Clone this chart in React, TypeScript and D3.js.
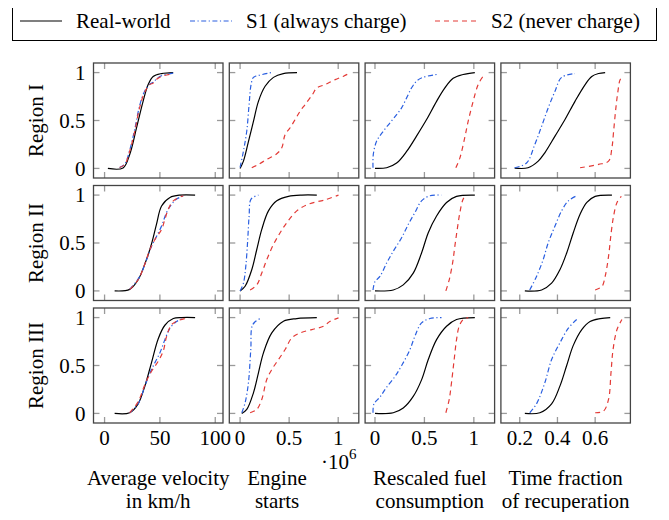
import React from 'react';
import * as d3 from 'd3';

type Pt = [number, number];

const regions = ['Region I', 'Region II', 'Region III'];
const seriesNames = ['Real-world', 'S1 (always charge)', 'S2 (never charge)'];
const xLabels = [
  ['Average velocity', 'in km/h'],
  ['Engine', 'starts'],
  ['Rescaled fuel', 'consumption'],
  ['Time fraction', 'of recuperation'],
];
const xDomains: Pt[] = [[-10, 107], [-0.11, 1.21], [-0.1, 1.21], [0.1, 0.787]];
const xTicks = [[0, 50, 100], [0, 0.5, 1], [0, 0.5, 1], [0.2, 0.4, 0.6]];
const xTickLabels = [['0', '50', '100'], ['0', '0.5', '1'], ['0', '0.5', '1'], ['0.2', '0.4', '0.6']];
const yTicks = [0, 0.5, 1];
const yTickLabels = ['0', '0.5', '1'];

// Region I
const velIReal: Pt[] = [[3, 0], [16.7, 0.005], [22.7, 0.146], [28.8, 0.42], [34.8, 0.7], [39.4, 0.875], [43.9, 0.96], [51.5, 0.99], [62, 1]];
const velIS1: Pt[] = [[13.6, 0.01], [18.2, 0.045], [22.7, 0.19], [27.3, 0.41], [31.8, 0.66], [36.4, 0.81], [41, 0.88], [44, 0.9], [47.5, 0.94], [52, 0.97], [62, 0.995]];
const velIS2: Pt[] = [[13.6, 0.01], [18.2, 0.04], [22.7, 0.18], [27.3, 0.39], [31.8, 0.64], [36.4, 0.8], [40.9, 0.875], [43.9, 0.89], [47, 0.93], [51.5, 0.96], [62, 0.99]];
const engIReal: Pt[] = [[0, 0], [0.034, 0.076], [0.085, 0.28], [0.136, 0.49], [0.187, 0.7], [0.255, 0.857], [0.34, 0.95], [0.44, 0.99], [0.58, 1]];
const engIS1: Pt[] = [[0, 0.01], [0.034, 0.18], [0.068, 0.39], [0.092, 0.67], [0.112, 0.875], [0.136, 0.95], [0.187, 0.97], [0.32, 1]];
const engIS2: Pt[] = [[0.119, 0.007], [0.187, 0.042], [0.272, 0.094], [0.374, 0.153], [0.425, 0.215], [0.459, 0.354], [0.51, 0.424], [0.561, 0.51], [0.612, 0.597], [0.663, 0.667], [0.738, 0.771], [0.782, 0.84], [0.867, 0.875], [0.969, 0.927], [1.054, 0.962], [1.122, 0.997]];
const fuelIReal: Pt[] = [[0, 0], [0.118, 0.007], [0.219, 0.056], [0.32, 0.177], [0.42, 0.337], [0.522, 0.51], [0.623, 0.7], [0.707, 0.84], [0.791, 0.94], [0.892, 0.98], [1.01, 1]];
const fuelIS1: Pt[] = [[-0.02, 0.007], [-0.017, 0.146], [0.017, 0.285], [0.084, 0.389], [0.152, 0.476], [0.219, 0.562], [0.269, 0.632], [0.32, 0.736], [0.37, 0.84], [0.42, 0.91], [0.488, 0.951], [0.623, 0.98]];
const fuelIS2: Pt[] = [[0.818, 0.007], [0.859, 0.11], [0.909, 0.326], [0.943, 0.493], [0.993, 0.7], [1.044, 0.875], [1.094, 0.96], [1.11, 0.97]];
const timeIReal: Pt[] = [[0.173, 0.003], [0.244, 0.007], [0.298, 0.076], [0.333, 0.163], [0.387, 0.337], [0.44, 0.51], [0.493, 0.7], [0.547, 0.875], [0.582, 0.96], [0.618, 0.99], [0.653, 1]];
const timeIS1: Pt[] = [[0.173, 0.007], [0.236, 0.056], [0.28, 0.25], [0.316, 0.44], [0.351, 0.632], [0.387, 0.806], [0.422, 0.95], [0.493, 0.99]];
const timeIS2: Pt[] = [[0.52, 0.007], [0.618, 0.042], [0.671, 0.076], [0.689, 0.215], [0.698, 0.389], [0.71, 0.632], [0.721, 0.806], [0.733, 0.927], [0.751, 0.962]];

// Region II
const velIIReal: Pt[] = [[9.1, 0], [22.7, 0.016], [30.3, 0.116], [36.4, 0.28], [42.4, 0.49], [47, 0.7], [51.5, 0.886], [59.1, 0.975], [68.2, 1], [81.8, 1]];
const velIIS1: Pt[] = [[22.7, 0.016], [31.8, 0.15], [37.9, 0.326], [42.4, 0.463], [47, 0.57], [51.5, 0.677], [56, 0.818], [60.6, 0.905], [65.1, 0.958], [71.2, 0.993]];
const velIIS2: Pt[] = [[22.7, 0.016], [30.3, 0.116], [36.4, 0.28], [40.9, 0.43], [45.5, 0.537], [51.5, 0.642], [54.5, 0.747], [57.6, 0.853], [62.1, 0.94], [71.2, 0.993]];
const engIIReal: Pt[] = [[0, 0], [0.051, 0.049], [0.119, 0.221], [0.17, 0.432], [0.221, 0.642], [0.289, 0.835], [0.374, 0.94], [0.493, 0.986], [0.629, 1], [0.782, 1]];
const engIIS1: Pt[] = [[0, 0], [0.034, 0.081], [0.058, 0.256], [0.078, 0.537], [0.092, 0.782], [0.112, 0.958], [0.187, 1]];
const engIIS2: Pt[] = [[0.102, 0.01], [0.17, 0.063], [0.221, 0.186], [0.272, 0.326], [0.34, 0.484], [0.408, 0.607], [0.476, 0.712], [0.578, 0.835], [0.697, 0.905], [0.867, 0.951], [1.003, 1]];
const fuelIIReal: Pt[] = [[0, 0], [0.185, 0.01], [0.286, 0.063], [0.387, 0.186], [0.471, 0.396], [0.539, 0.607], [0.623, 0.782], [0.724, 0.923], [0.825, 0.986], [1.01, 1]];
const fuelIIS1: Pt[] = [[-0.02, 0.01], [0, 0.098], [0.05, 0.151], [0.118, 0.291], [0.185, 0.414], [0.269, 0.554], [0.337, 0.695], [0.404, 0.818], [0.471, 0.94], [0.556, 0.993], [0.673, 1]];
const fuelIIS2: Pt[] = [[0.717, 0], [0.751, 0.116], [0.785, 0.291], [0.808, 0.467], [0.832, 0.642], [0.859, 0.818], [0.892, 0.958], [0.926, 1]];
const timeIIReal: Pt[] = [[0.227, 0], [0.316, 0.01], [0.369, 0.081], [0.413, 0.221], [0.449, 0.396], [0.484, 0.607], [0.52, 0.8], [0.556, 0.923], [0.6, 0.986], [0.689, 1]];
const timeIIS1: Pt[] = [[0.253, 0.01], [0.289, 0.151], [0.324, 0.326], [0.351, 0.502], [0.387, 0.677], [0.422, 0.835], [0.458, 0.94], [0.502, 0.993]];
const timeIIS2: Pt[] = [[0.6, 0.01], [0.636, 0.046], [0.653, 0.151], [0.671, 0.361], [0.685, 0.607], [0.698, 0.782], [0.716, 0.923], [0.739, 0.986]];

// Region III
const velIIIReal: Pt[] = [[9.1, 0], [22.7, 0.007], [30.3, 0.1], [36.4, 0.285], [42.4, 0.53], [48.5, 0.78], [54.5, 0.92], [62.1, 0.99], [69.7, 1], [81.8, 1]];
const velIIIS1: Pt[] = [[22.7, 0.007], [30.3, 0.1], [36.4, 0.285], [40.9, 0.42], [45.5, 0.53], [50, 0.632], [54.5, 0.77], [59.1, 0.89], [65.1, 0.96], [71.2, 0.99]];
const velIIIS2: Pt[] = [[22.7, 0.007], [30.3, 0.12], [36.4, 0.3], [42.4, 0.44], [48.5, 0.545], [53, 0.65], [56.1, 0.806], [60.6, 0.927], [66.7, 0.97], [72.7, 0.99]];
const engIIIReal: Pt[] = [[0.017, 0], [0.068, 0.042], [0.136, 0.215], [0.187, 0.424], [0.238, 0.632], [0.323, 0.84], [0.442, 0.962], [0.578, 0.99], [0.782, 1]];
const engIIIS1: Pt[] = [[0.017, 0.007], [0.051, 0.11], [0.085, 0.32], [0.109, 0.667], [0.129, 0.927], [0.204, 0.99]];
const engIIIS2: Pt[] = [[0.102, 0.007], [0.17, 0.042], [0.221, 0.146], [0.272, 0.354], [0.323, 0.458], [0.391, 0.562], [0.459, 0.667], [0.527, 0.788], [0.612, 0.84], [0.731, 0.875], [0.85, 0.91], [0.918, 0.962], [1.003, 0.997]];
const fuelIIIReal: Pt[] = [[0, 0], [0.185, 0.007], [0.286, 0.056], [0.387, 0.177], [0.471, 0.35], [0.539, 0.562], [0.623, 0.77], [0.724, 0.91], [0.825, 0.98], [1.01, 1]];
const fuelIIIS1: Pt[] = [[-0.02, 0.007], [-0.01, 0.1], [0.05, 0.17], [0.118, 0.274], [0.202, 0.385], [0.27, 0.5], [0.354, 0.667], [0.404, 0.806], [0.471, 0.945], [0.556, 0.99], [0.673, 1]];
const fuelIIIS2: Pt[] = [[0.717, 0.007], [0.751, 0.146], [0.774, 0.32], [0.801, 0.562], [0.825, 0.77], [0.852, 0.91], [0.892, 0.98], [0.943, 1]];
const timeIIIReal: Pt[] = [[0.227, 0], [0.307, 0.007], [0.369, 0.1], [0.413, 0.285], [0.449, 0.5], [0.484, 0.71], [0.529, 0.875], [0.573, 0.96], [0.627, 0.99], [0.68, 1]];
const timeIIIS1: Pt[] = [[0.253, 0.007], [0.289, 0.1], [0.333, 0.32], [0.369, 0.562], [0.413, 0.736], [0.458, 0.89], [0.502, 0.98]];
const timeIIIS2: Pt[] = [[0.6, 0.007], [0.644, 0.024], [0.671, 0.146], [0.684, 0.424], [0.695, 0.667], [0.716, 0.875], [0.742, 0.98]];

const grid: Pt[][][][] = [
  [[velIReal, velIS1, velIS2], [engIReal, engIS1, engIS2], [fuelIReal, fuelIS1, fuelIS2], [timeIReal, timeIS1, timeIS2]],
  [[velIIReal, velIIS1, velIIS2], [engIIReal, engIIS1, engIIS2], [fuelIIReal, fuelIIS1, fuelIIS2], [timeIIReal, timeIIS1, timeIIS2]],
  [[velIIIReal, velIIIS1, velIIIS2], [engIIIReal, engIIIS1, engIIIS2], [fuelIIIReal, fuelIIIS1, fuelIIIS2], [timeIIIReal, timeIIIS1, timeIIIS2]],
];

const styles = [
  { color: '#000000', dash: undefined as string | undefined },
  { color: '#2a5fe0', dash: '5,2.5,1.2,2.5' },
  { color: '#e33a36', dash: '5,4' },
];

const W = 669;
const H = 520;
const panelW = 129.5;
const panelH = 115;
const left0 = 93.5;
const colStep = 135.8;
const top0 = 63;
const rowStep = 122.5;
const font = 'Liberation Serif, Times New Roman, Times, DejaVu Serif, serif';
const fs = 21;
const tickColor = '#9a9a9a';
const frameColor = '#444';

const T = (props: React.SVGProps<SVGTextElement>) => (
  <text fontFamily={font} fontSize={fs} fill="#000" {...props} />
);

const App = () => {
  const line = d3.line<Pt>().curve(d3.curveCatmullRom.alpha(0.5));

  const panels: React.ReactNode[] = [];
  regions.forEach((_, r) => {
    xDomains.forEach((dom, c) => {
      const x0 = left0 + c * colStep;
      const y0 = top0 + r * rowStep;
      const x = d3.scaleLinear().domain(dom).range([x0, x0 + panelW]);
      const y = d3.scaleLinear().domain([-0.1, 1.1]).range([y0 + panelH, y0]);
      line.x(d => x(d[0])).y(d => y(d[1]));
      panels.push(
        <g key={`p${r}-${c}`}>
          <clipPath id={`clip${r}-${c}`}>
            <rect x={x0} y={y0} width={panelW} height={panelH} />
          </clipPath>
          {xTicks[c].map(t => (
            <g key={`xt${t}`} stroke={tickColor} strokeWidth={1.3}>
              <line x1={x(t)} x2={x(t)} y1={y0 + panelH} y2={y0 + panelH - 6} />
              <line x1={x(t)} x2={x(t)} y1={y0} y2={y0 + 6} />
            </g>
          ))}
          {yTicks.map(t => (
            <g key={`yt${t}`} stroke={tickColor} strokeWidth={1.3}>
              <line x1={x0} x2={x0 + 6} y1={y(t)} y2={y(t)} />
              <line x1={x0 + panelW} x2={x0 + panelW - 6} y1={y(t)} y2={y(t)} />
            </g>
          ))}
          <g clipPath={`url(#clip${r}-${c})`}>
            {grid[r][c].map((pts, s) => (
              <path
                key={`s${s}`}
                d={line(pts) ?? ''}
                fill="none"
                stroke={styles[s].color}
                strokeWidth={1.2}
                strokeDasharray={styles[s].dash}
              />
            ))}
          </g>
          <rect x={x0} y={y0} width={panelW} height={panelH} fill="none" stroke={frameColor} strokeWidth={1.3} />
          {c === 0 &&
            yTicks.map((t, i) => (
              <T key={`yl${t}`} x={x0 - 8} y={y(t)} dy="0.35em" textAnchor="end">
                {yTickLabels[i]}
              </T>
            ))}
          {r === regions.length - 1 &&
            xTicks[c].map((t, i) => (
              <T key={`xl${t}`} x={x(t)} y={y0 + panelH + 22} textAnchor="middle">
                {xTickLabels[c][i]}
              </T>
            ))}
        </g>
      );
    });
  });

  const legendX = [20, 190, 435];

  return (
    <svg width={W} height={H} style={{ display: 'block', margin: -8 }}>
      <rect width={W} height={H} fill="#fff" />
      <rect x={12.5} y={2.5} width={644} height={38} fill="none" stroke="#000" strokeWidth={1} />
      {seriesNames.map((name, i) => (
        <g key={name}>
          <line
            x1={legendX[i]}
            x2={legendX[i] + 42}
            y1={21}
            y2={21}
            stroke={styles[i].color}
            strokeWidth={1.2}
            strokeDasharray={styles[i].dash}
          />
          <T x={legendX[i] + 56} y={28}>{name}</T>
        </g>
      ))}
      {panels}
      {regions.map((name, r) => (
        <T
          key={name}
          transform={`translate(36,${top0 + r * rowStep + panelH / 2}) rotate(-90)`}
          textAnchor="middle"
          dy="0.35em"
        >
          {name}
        </T>
      ))}
      {xLabels.map((lines, c) => (
        <T key={lines[0]} textAnchor="middle">
          {lines.map((l, i) => (
            <tspan key={l} x={left0 + c * colStep + panelW / 2 - (c === 1 ? 17 : 0)} y={485 + i * 23}>
              {l}
            </tspan>
          ))}
        </T>
      ))}
      <T x={321} y={469}>
        ·10
        <tspan dy={-10} fontSize={15}>6</tspan>
      </T>
    </svg>
  );
};

export default App;
